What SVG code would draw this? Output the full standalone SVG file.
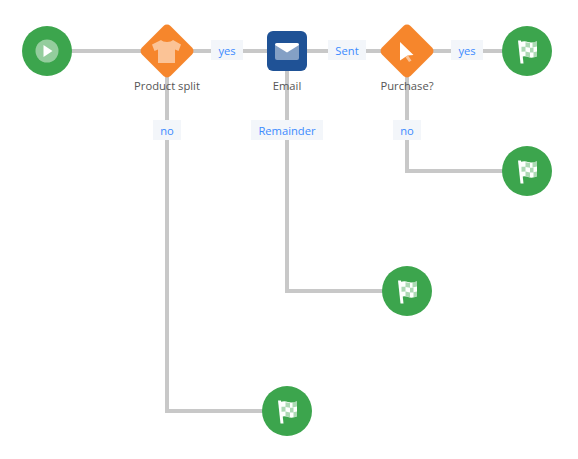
<svg xmlns="http://www.w3.org/2000/svg" width="578" height="459" viewBox="0 0 578 459">
<style>
.c{fill:none;stroke:#c8c8c8;stroke-width:4}
.g{fill:#3ca54d}
.o{fill:#f6862c}
.lb{fill:#f3f6fa}
.lt{font:11.2px "Open Sans",sans-serif;fill:#3b8bff;text-anchor:middle}
.nt{font:11.2px "Open Sans",sans-serif;fill:#555;text-anchor:middle}
</style>
<defs>
<g id="flag">
<path fill="#fff" d="M-9-10.500h3l2.500 23h-3z"/>
<path fill="#fff" d="M-6.500-9c3-1 5-.8 7.500 0s5.500 .6 9-.8v15.300c-3.500 1.300-6 1.500-9 .5s-5-1-6 -.2z"/>
<path fill="#3ca54d" opacity=".42" d="M-1.500-8.800l4.500 .8v4.800l-4.500-.8zM5.500-8.400l4.500-1v5l-4.500 1zM3-3.200l3.500 0v4.700l-3.500 0zM-5.500-4.200l4-.200v4.800l-4 .3zM-1.500.4l4.500 1v4.800l-4.500-1zM6.500 1.200l3.500-.8v5l-3.500 .8z"/>
</g>
<path id="dia" d="M-3.500-25a5 5 0 0 1 7 0l21.500 21.500a5 5 0 0 1 0 7l-21.500 21.500a5 5 0 0 1-7 0l-21.500-21.500a5 5 0 0 1 0-7z"/>
</defs>
<g id="connectors">
<path class="c" d="M47 51H527"/>
<path class="c" d="M167 51V411H287"/>
<path class="c" d="M287 51V291H407"/>
<path class="c" d="M407 51V171H527"/>
</g>
<g id="start"><circle class="g" cx="47" cy="51" r="25"/><circle cx="47" cy="51" r="11.500" fill="#fff" opacity=".45"/><path fill="#fff" d="M43.500 45l9 6-9 6z"/></g>
<g id="product-split"><use href="#dia" class="o" x="167" y="51"/>
<path fill="#fff" opacity=".5" d="M161 40c2 2.500 10 2.500 12 0l8 4.500-2.500 6.500-3.500-1.500V63h-17V49.500l-3.500 1.500-2.500-6.500z"/>
<text class="nt" x="167" y="90">Product split</text></g>
<g id="email"><rect x="267" y="31" width="40" height="40" rx="6" fill="#1f5296"/>
<rect x="275" y="43" width="24" height="17" rx="2" fill="#fff" opacity=".45"/>
<path fill="#fff" d="M277 43h20a2 2 0 0 1 2 2l-12 7.500-12-7.500a2 2 0 0 1 2-2z"/>
<text class="nt" x="287" y="90">Email</text></g>
<g id="purchase"><use href="#dia" class="o" x="407" y="51"/>
<path fill="#fff" d="M400 42l13.500 13-6 .5-7.500 5z"/>
<path fill="#fff" opacity=".5" d="M408 55.500l3.500 5-2.500 1.500-3.500-5z"/>
<text class="nt" x="407" y="90">Purchase?</text></g>
<g id="end-1"><circle class="g" cx="527" cy="51" r="25"/><use href="#flag" x="527" y="51"/></g>
<g id="end-2"><circle class="g" cx="527" cy="171" r="25"/><use href="#flag" x="527" y="171"/></g>
<g id="end-3"><circle class="g" cx="407" cy="291" r="25"/><use href="#flag" x="407" y="291"/></g>
<g id="end-4"><circle class="g" cx="287" cy="411" r="25"/><use href="#flag" x="287" y="411"/></g>
<g id="labels">
<rect class="lb" x="211" y="40" width="32" height="20"/><text class="lt" x="227" y="55">yes</text>
<rect class="lb" x="328" y="40" width="38" height="20"/><text class="lt" x="347" y="55">Sent</text>
<rect class="lb" x="451" y="40" width="32" height="20"/><text class="lt" x="467" y="55">yes</text>
<rect class="lb" x="153" y="120" width="28" height="20"/><text class="lt" x="167" y="135">no</text>
<rect class="lb" x="251" y="120" width="72" height="20"/><text class="lt" x="287" y="135">Remainder</text>
<rect class="lb" x="393" y="120" width="28" height="20"/><text class="lt" x="407" y="135">no</text>
</g>
</svg>
